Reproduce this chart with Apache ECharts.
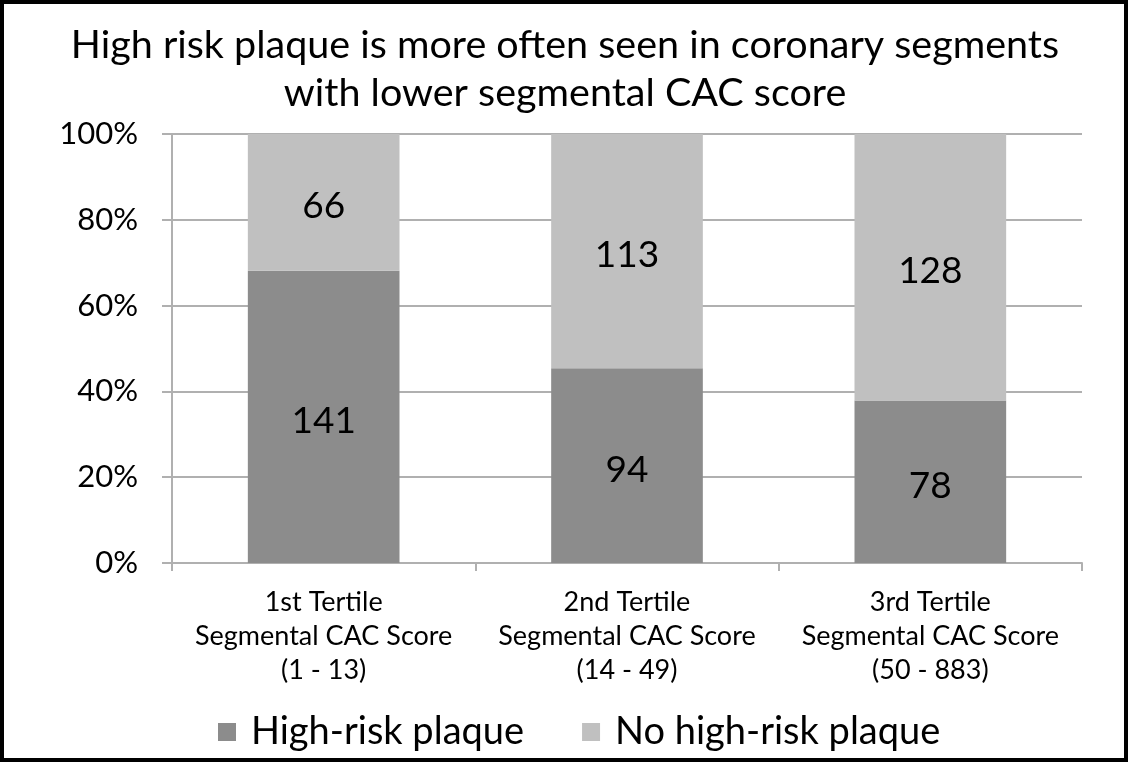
<!DOCTYPE html>
<html>
<head>
<meta charset="utf-8">
<script src="https://cdn.jsdelivr.net/npm/echarts@6/dist/echarts.min.js"></script>
<style>
  html, body { margin: 0; padding: 0; background: #fff; }
  #chart { width: 1130px; height: 764px; }
</style>
</head>
<body>
<div id="chart"></div>
<script>
  const categories = [
    '1st Tertile\nSegmental CAC Score\n(1 - 13)',
    '2nd Tertile\nSegmental CAC Score\n(14 - 49)',
    '3rd Tertile\nSegmental CAC Score\n(50 - 883)'
  ]
  const highRisk = [141, 94, 78]
  const noHighRisk = [66, 113, 128]
  const yTicks = ['0%', '20%', '40%', '60%', '80%', '100%']
  const colors = ['#8c8c8c', '#c0c0c0']
  const font = 'Lato, "Open Sans", sans-serif'

  const totals = highRisk.map((v, i) => v + noHighRisk[i])
  const share = (arr) => arr.map((v, i) => ({ value: v / totals[i] * 100, count: v }))

  const chart = echarts.init(document.getElementById('chart'))
  chart.setOption({
    animation: false,
    color: colors,
    textStyle: { fontFamily: font },
    title: {
      text: 'High risk plaque is more often seen in coronary segments\nwith lower segmental CAC score',
      left: 'center',
      top: 16,
      textStyle: { fontFamily: font, fontSize: 39.5, fontWeight: 'normal', color: '#000', lineHeight: 48 }
    },
    graphic: [{
      type: 'rect',
      shape: { x: 2, y: 2, width: 1124, height: 758 },
      style: { fill: 'none', stroke: '#000', lineWidth: 4 }
    }],
    legend: {
      bottom: 8,
      left: 213,
      itemWidth: 18,
      itemHeight: 18,
      itemGap: 58,
      icon: 'rect',
      textStyle: { fontFamily: font, fontSize: 38, color: '#000', padding: [0, 0, 0, 10] },
      data: ['High-risk plaque', 'No high-risk plaque']
    },
    grid: { left: 172, right: 48, top: 134, bottom: 201 },
    xAxis: {
      type: 'category',
      data: categories,
      axisLine: { lineStyle: { color: '#b0b0b0', width: 2 } },
      axisTick: { show: true, length: 8, lineStyle: { color: '#b0b0b0', width: 2 } },
      axisLabel: { interval: 0, fontFamily: font, fontSize: 27, color: '#000', lineHeight: 34, margin: 22 }
    },
    yAxis: {
      type: 'value',
      min: 0,
      max: 100,
      interval: 20,
      axisLine: { show: true, lineStyle: { color: '#b0b0b0', width: 2 } },
      axisTick: { show: true, length: 10, lineStyle: { color: '#b0b0b0', width: 2 } },
      splitLine: { lineStyle: { color: '#b0b0b0', width: 2 } },
      axisLabel: {
        fontFamily: font, fontSize: 31, color: '#000', margin: 34,
        formatter: (v) => yTicks[Math.round(v / 20)]
      }
    },
    series: [
      {
        name: 'High-risk plaque',
        type: 'bar',
        stack: 'total',
        barWidth: '50%',
        data: share(highRisk),
        label: {
          show: true, position: 'inside', offset: [0, 4], fontFamily: font, fontSize: 37, color: '#000',
          formatter: (p) => p.data.count
        }
      },
      {
        name: 'No high-risk plaque',
        type: 'bar',
        stack: 'total',
        barWidth: '50%',
        data: share(noHighRisk),
        label: {
          show: true, position: 'inside', offset: [0, 4], fontFamily: font, fontSize: 37, color: '#000',
          formatter: (p) => p.data.count
        }
      }
    ]
  })
</script>
</body>
</html>
